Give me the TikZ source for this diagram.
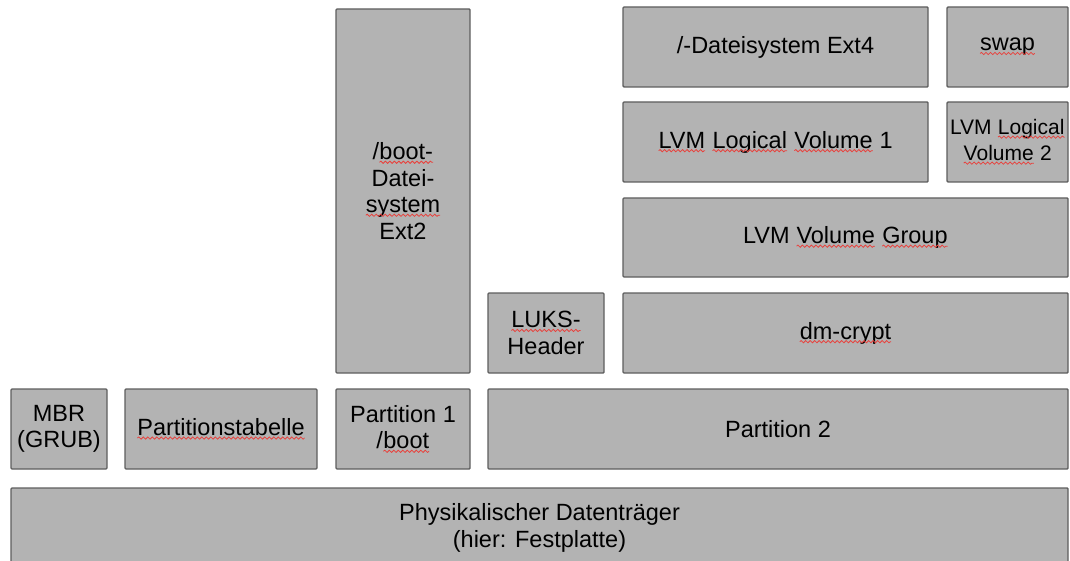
\documentclass[tikz,border=0pt]{standalone}
\usepackage{fontspec}
\setmainfont{Liberation Sans}
\usetikzlibrary{decorations.pathmorphing}

\definecolor{boxfill}{HTML}{B3B3B3}
\definecolor{boxline}{HTML}{5E5E5E}
\definecolor{sqred}{HTML}{E8413C}

% red wavy underline (spell-check style) below a word
\newcommand\sq[1]{\tikz[baseline=(w.base), x=1pt, y=1pt]{%
  \node[inner sep=0pt, outer sep=0pt, draw=none, fill=none, minimum size=0pt,
        rounded corners=0pt, text=black] (w) {#1};
  \draw[sqred, line width=0.8pt, rounded corners=0pt,
        decorate, decoration={snake, segment length=4.5pt, amplitude=1.1pt}]
    ([yshift=-2.6pt]w.base west) -- ([yshift=-2.6pt]w.base east);}}

\tikzset{
  layer/.style={draw=boxline, fill=boxfill, line width=1.4pt, rounded corners=1pt,
    inner sep=0pt, align=center, text=black,
    font=\fontsize{23.5}{26.5}\selectfont},
  smalltext/.style={font=\fontsize{21}{26}\selectfont}
}

% \blk{name}{x1}{y1}{x2}{y2}{options}{text}
\newcommand\blk[7]{%
  \node[layer, #6, minimum width={(#4-#2)*1pt}, minimum height={(#5-#3)*1pt}]
    (#1) at ({(#2+#4)/2}, {(#3+#5)/2}) {#7};}

\begin{document}
\begin{tikzpicture}[x=1pt, y=-1pt]
  \useasboundingbox (0,0) rectangle (1070,561);
  \clip (0,0) rectangle (1070,561);

  % disk and partition table level
  \blk{phys}{11}{488}{1068}{568}{}{Physikalischer Datenträger\\(hier: Festplatte)}
  \blk{mbr}{11}{389}{107}{469}{}{MBR\\(GRUB)}
  \blk{ptab}{125}{389}{317}{469}{}{\sq{Partitionstabelle}}
  \blk{part1}{336}{389}{470}{469}{}{Partition 1\\/\sq{boot}}
  \blk{part2}{488}{389}{1068}{469}{}{Partition 2}

  % boot partition
  \blk{bootfs}{336}{9}{470}{373}{}{/\sq{boot-}\\Datei-\\\sq{system}\\Ext2}

  % encrypted partition
  \blk{luks}{488}{293}{604}{373}{}{\sq{LUKS-}\\Header}
  \blk{crypt}{623}{293}{1068}{373}{}{\sq{dm-crypt}}

  % LVM stack
  \blk{vg}{623}{198}{1068}{277}{}{LVM \sq{Volume} \sq{Group}}
  \blk{lv1}{623}{102}{928}{182}{}{\sq{LVM} \sq{Logical} \sq{Volume} 1}
  \blk{lv2}{947}{102}{1068}{182}{smalltext}{LVM \sq{Logical}\\\sq{Volume} 2}

  % file systems
  \blk{rootfs}{623}{7}{928}{87}{}{/-Dateisystem Ext4}
  \blk{swap}{947}{7}{1068}{87}{}{\sq{swap}}
\end{tikzpicture}
\end{document}
